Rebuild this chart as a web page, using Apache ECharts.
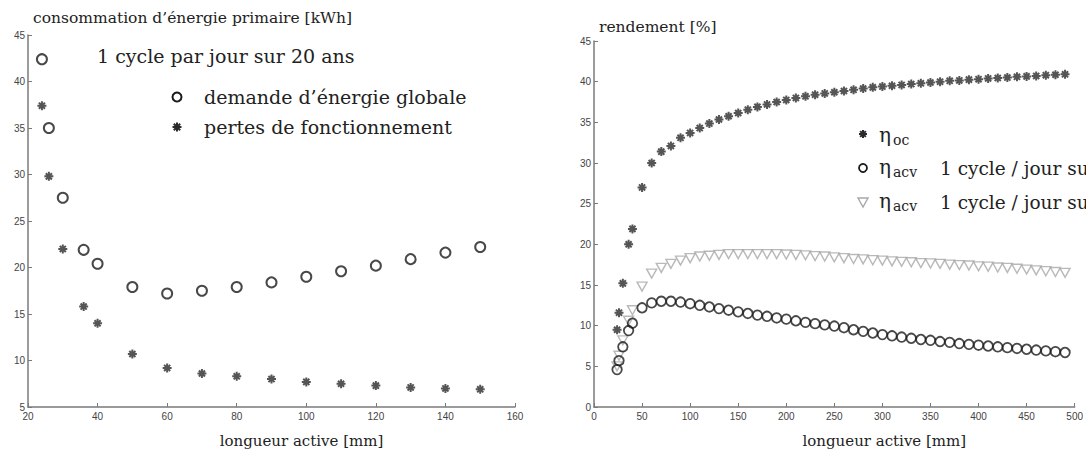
<!DOCTYPE html>
<html>
<head>
<meta charset="utf-8">
<script src="https://cdn.jsdelivr.net/npm/echarts@6/dist/echarts.min.js"></script>
<style>
  html, body { margin: 0; padding: 0; background: #fff; overflow: hidden; }
  #chart { width: 1086px; height: 455px; overflow: hidden; }
</style>
</head>
<body>
<div id="chart"></div>
<script>
// Consommation d'énergie primaire (kWh) en fonction de la longueur active (mm)
const longueursConso = [24, 26, 30, 36, 40, 50, 60, 70, 80, 90, 100, 110, 120, 130, 140, 150];
const demandeGlobale = [42.4, 35.0, 27.5, 21.9, 20.4, 17.9, 17.2, 17.5, 17.9, 18.4, 19.0, 19.6, 20.2, 20.9, 21.6, 22.2];
const pertesFonctionnement = [37.4, 29.8, 22.0, 15.8, 14.0, 10.7, 9.2, 8.6, 8.3, 8.0, 7.7, 7.5, 7.3, 7.1, 7.0, 6.9];

// Rendements (%) en fonction de la longueur active (mm)
const longueursRend = [24, 26, 30, 36, 40, 50, 60, 70, 80, 90, 100, 110, 120, 130, 140, 150, 160, 170, 180, 190,
  200, 210, 220, 230, 240, 250, 260, 270, 280, 290, 300, 310, 320, 330, 340, 350, 360, 370, 380, 390,
  400, 410, 420, 430, 440, 450, 460, 470, 480, 490];
const etaOc = [9.5, 11.6, 15.2, 20.0, 21.9, 27.0, 30.0, 31.4, 32.1, 33.1, 33.7, 34.3, 34.85, 35.35, 35.75,
  36.15, 36.55, 36.9, 37.2, 37.5, 37.75, 38.0, 38.2, 38.4, 38.55, 38.7, 38.85, 39.0, 39.15, 39.3,
  39.4, 39.5, 39.6, 39.7, 39.8, 39.9, 40.0, 40.1, 40.15, 40.25, 40.3, 40.4, 40.45, 40.5, 40.6,
  40.65, 40.7, 40.8, 40.85, 40.9];
const etaAcv20 = [4.6, 5.7, 7.4, 9.4, 10.3, 12.2, 12.8, 13.0, 13.0, 12.9, 12.7, 12.5, 12.3, 12.1, 11.9,
  11.7, 11.5, 11.3, 11.15, 10.95, 10.8, 10.6, 10.4, 10.25, 10.1, 9.95, 9.75, 9.5, 9.3, 9.1,
  8.9, 8.75, 8.6, 8.45, 8.3, 8.2, 8.05, 7.95, 7.8, 7.7, 7.6, 7.5, 7.4, 7.3, 7.2,
  7.1, 7.0, 6.9, 6.8, 6.7];
const etaAcv40 = [5.0, 6.3, 8.2, 10.6, 11.9, 14.8, 16.4, 17.1, 17.6, 18.0, 18.3, 18.5, 18.6, 18.7, 18.8,
  18.8, 18.8, 18.8, 18.8, 18.8, 18.75, 18.7, 18.65, 18.55, 18.5, 18.4, 18.3, 18.2, 18.15, 18.05,
  18.0, 17.9, 17.85, 17.8, 17.7, 17.65, 17.6, 17.5, 17.45, 17.4, 17.3, 17.25, 17.15, 17.1, 17.0,
  16.9, 16.8, 16.7, 16.6, 16.5];

// Graduations des axes : min, max, pas
const ticksConsoX = [20, 160, 20];
const ticksConsoY = [5, 45, 5];
const ticksRendX = [0, 500, 50];
const ticksRendY = [0, 45, 5];

const SERIF = "'DejaVu Serif', 'Liberation Serif', serif";
const SANS = "'Liberation Sans', 'DejaVu Sans', sans-serif";
const AXIS_GREY = '#7a7a7a';
const INK = '#222';

// astérisque à huit branches, comme le marqueur '*'
const ASTERISK = 'path://M5,0L5,10M0,5L10,5M1.6,1.6L8.4,8.4M1.6,8.4L8.4,1.6';

function zip(xs, ys) { return xs.map((x, i) => [x, ys[i]]); }

// astérisque de légende, fait de quatre segments
function legendStar(cx, cy, r) {
  const d = r * 0.71;
  const seg = (x1, y1, x2, y2) => ({
    type: 'line', shape: { x1: cx + x1, y1: cy + y1, x2: cx + x2, y2: cy + y2 },
    style: { stroke: '#2a2a2a', lineWidth: 2 }
  });
  return { type: 'group', children: [seg(0, -r, 0, r), seg(-r, 0, r, 0), seg(-d, -d, d, d), seg(-d, d, d, -d)] };
}

function label(x, y, text, size) {
  return { type: 'text', x, y, style: { text, font: size + 'px ' + SERIF, fill: INK, verticalAlign: 'middle' } };
}

// le titre de l'axe horizontal est décalé vers la droite de « shift » pixels
function makeX(gridIndex, t, shift) {
  return {
    type: 'value', gridIndex, min: t[0], max: t[1], interval: t[2],
    name: 'longueur active [mm]', nameLocation: 'middle', nameGap: 26,
    nameTextStyle: { fontFamily: SERIF, fontSize: 15, color: INK, padding: [0, 0, 0, 2 * shift] },
    axisLine: { show: true, onZero: false, lineStyle: { color: AXIS_GREY, width: 1.5 } },
    axisTick: { show: true, inside: true, length: 4, lineStyle: { color: AXIS_GREY } },
    axisLabel: { fontFamily: SANS, fontSize: 10, color: '#444', margin: 4 },
    splitLine: { show: false }
  };
}
function makeY(gridIndex, t) {
  return {
    type: 'value', gridIndex, min: t[0], max: t[1], interval: t[2],
    axisLine: { show: true, onZero: false, lineStyle: { color: AXIS_GREY, width: 1.5 } },
    axisTick: { show: true, inside: true, length: 4, lineStyle: { color: AXIS_GREY } },
    axisLabel: { fontFamily: SANS, fontSize: 10, color: '#444', margin: 3 },
    splitLine: { show: false }
  };
}

const chart = echarts.init(document.getElementById('chart'), null, { renderer: 'svg' });

chart.setOption({
  animation: false,
  backgroundColor: '#fff',
  grid: [
    { left: 28, top: 35, width: 487, height: 372 },
    { left: 594, top: 41, width: 483, height: 366 }
  ],
  xAxis: [makeX(0, ticksConsoX, 30), makeX(1, ticksRendX, 50)],
  yAxis: [makeY(0, ticksConsoY), makeY(1, ticksRendY)],
  series: [
    {
      name: 'demande d\u2019énergie globale', type: 'scatter', xAxisIndex: 0, yAxisIndex: 0,
      data: zip(longueursConso, demandeGlobale), symbol: 'circle', symbolSize: 10,
      itemStyle: { color: 'rgba(255,255,255,0)', borderColor: '#1a1a1a', borderWidth: 2 }
    },
    {
      name: 'pertes de fonctionnement', type: 'scatter', xAxisIndex: 0, yAxisIndex: 0,
      data: zip(longueursConso, pertesFonctionnement), symbol: ASTERISK, symbolSize: 9,
      itemStyle: { color: 'rgba(0,0,0,0)', borderColor: '#2a2a2a', borderWidth: 2 }
    },
    {
      name: 'eta_acv 40', type: 'scatter', xAxisIndex: 1, yAxisIndex: 1,
      data: zip(longueursRend, etaAcv40), symbol: 'triangle', symbolRotate: 180, symbolSize: [10, 9],
      itemStyle: { color: 'rgba(255,255,255,0)', borderColor: '#a8a8a8', borderWidth: 1.4 }
    },
    {
      name: 'eta_acv 20', type: 'scatter', xAxisIndex: 1, yAxisIndex: 1,
      data: zip(longueursRend, etaAcv20), symbol: 'circle', symbolSize: 9.5,
      itemStyle: { color: 'rgba(255,255,255,0)', borderColor: '#1a1a1a', borderWidth: 1.8 }
    },
    {
      name: 'eta_oc', type: 'scatter', xAxisIndex: 1, yAxisIndex: 1,
      data: zip(longueursRend, etaOc), symbol: ASTERISK, symbolSize: 9,
      itemStyle: { color: 'rgba(0,0,0,0)', borderColor: '#2a2a2a', borderWidth: 2 }
    }
  ],
  graphic: [
    // titres des axes verticaux
    label(33, 18, 'consommation d\u2019énergie primaire [kWh]', 15.5),
    label(599, 27, 'rendement [%]', 15.5),

    // légende du graphique de gauche
    label(97, 56, '1 cycle par jour sur 20 ans', 19),
    { type: 'circle', shape: { cx: 177, cy: 97, r: 4.5 }, style: { fill: 'none', stroke: '#1a1a1a', lineWidth: 2 } },
    label(204, 97, 'demande d\u2019énergie globale', 19),
    legendStar(177, 127, 4.5),
    label(204, 127, 'pertes de fonctionnement', 19),

    // légende du graphique de droite
    legendStar(863, 134, 4),
    label(879, 135, 'η', 20),
    label(893, 140, 'oc', 14),

    { type: 'circle', shape: { cx: 863, cy: 168, r: 4 }, style: { fill: 'none', stroke: '#1a1a1a', lineWidth: 1.8 } },
    label(879, 167, 'η', 20),
    label(893, 172, 'acv', 14),
    label(940, 168, '1 cycle / jour sur 20 ans', 18.5),

    { type: 'polygon', shape: { points: [[858, 198], [868, 198], [863, 207]] }, style: { fill: 'none', stroke: '#a8a8a8', lineWidth: 1.4 } },
    label(879, 201, 'η', 20),
    label(893, 206, 'acv', 14),
    label(940, 202, '1 cycle / jour sur 40 ans', 18.5)
  ]
});
</script>
</body>
</html>
